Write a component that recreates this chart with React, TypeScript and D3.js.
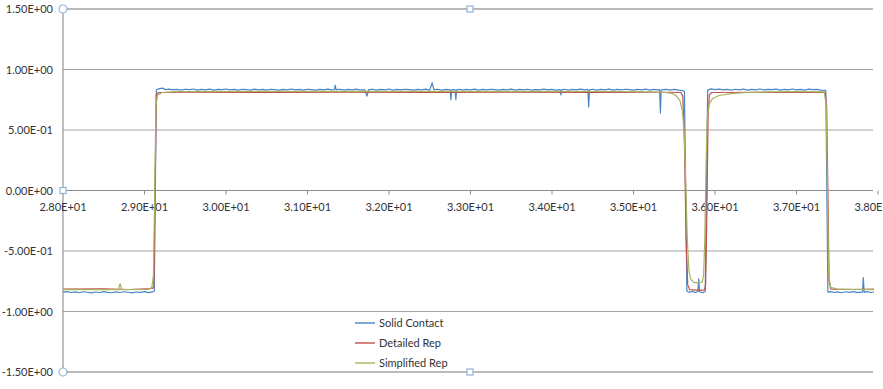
import React from "react";
import * as d3 from "d3";

type Pt = [number, number];

const xTicks = [28, 29, 30, 31, 32, 33, 34, 35, 36, 37, 38];
const yTicks = [1.5, 1.0, 0.5, 0, -0.5, -1.0, -1.5];
const seriesNames = ["Solid Contact", "Detailed Rep", "Simplified Rep"];
const seriesColors = ["#4A86C5", "#C0504D", "#A8B45C"];

const solidContact: Pt[] = [
  [28.0, -0.84], [28.05, -0.836], [28.1, -0.843], [28.15, -0.838], [28.2, -0.845], [28.25, -0.837],
  [28.3, -0.841], [28.35, -0.846], [28.4, -0.839], [28.45, -0.843], [28.5, -0.836], [28.55, -0.842],
  [28.6, -0.845], [28.65, -0.838], [28.7, -0.843], [28.75, -0.837], [28.8, -0.841], [28.85, -0.846],
  [28.9, -0.839], [28.95, -0.842], [29.0, -0.836], [29.05, -0.844], [29.1, -0.838],
  [29.12, -0.83], [29.145, 0.83],
  [29.18, 0.842], [29.22, 0.846], [29.26, 0.834], [29.3, 0.838], [29.35, 0.831], [29.4, 0.836],
  [29.45, 0.829], [29.5, 0.837], [29.55, 0.833], [29.6, 0.839], [29.65, 0.83], [29.7, 0.835],
  [29.75, 0.832], [29.8, 0.838], [29.85, 0.829], [29.9, 0.836], [29.95, 0.833], [30.0, 0.839],
  [30.05, 0.831], [30.1, 0.835], [30.15, 0.829], [30.2, 0.837], [30.25, 0.834], [30.3, 0.83],
  [30.35, 0.838], [30.4, 0.832], [30.45, 0.836], [30.5, 0.83], [30.55, 0.837], [30.6, 0.833],
  [30.65, 0.829], [30.7, 0.836], [30.75, 0.832], [30.8, 0.839], [30.85, 0.831], [30.9, 0.835],
  [30.95, 0.83], [31.0, 0.837], [31.05, 0.833], [31.1, 0.829], [31.15, 0.836], [31.2, 0.832],
  [31.25, 0.838], [31.3, 0.831], [31.33, 0.834], [31.34, 0.87], [31.35, 0.833], [31.4, 0.837],
  [31.45, 0.83], [31.5, 0.835], [31.55, 0.832], [31.6, 0.838], [31.65, 0.83], [31.7, 0.834],
  [31.73, 0.78], [31.75, 0.833], [31.8, 0.837], [31.85, 0.83], [31.9, 0.836], [31.95, 0.832],
  [32.0, 0.839], [32.05, 0.83], [32.1, 0.835], [32.15, 0.831], [32.2, 0.837], [32.25, 0.833],
  [32.3, 0.829], [32.35, 0.836], [32.4, 0.832], [32.45, 0.838], [32.5, 0.83], [32.53, 0.89],
  [32.55, 0.834], [32.6, 0.837], [32.65, 0.83], [32.7, 0.835], [32.75, 0.832], [32.76, 0.75],
  [32.77, 0.833], [32.81, 0.834], [32.82, 0.75], [32.83, 0.832], [32.87, 0.837], [32.9, 0.83],
  [32.95, 0.836], [33.0, 0.832], [33.05, 0.838], [33.1, 0.83], [33.15, 0.835], [33.2, 0.831],
  [33.25, 0.837], [33.3, 0.833], [33.35, 0.829], [33.4, 0.836], [33.45, 0.832], [33.5, 0.838],
  [33.55, 0.83], [33.6, 0.835], [33.65, 0.832], [33.7, 0.837], [33.75, 0.83], [33.8, 0.834],
  [33.85, 0.831], [33.9, 0.838], [33.95, 0.832], [34.0, 0.836], [34.05, 0.83], [34.1, 0.834],
  [34.11, 0.79], [34.12, 0.832], [34.15, 0.837], [34.2, 0.83], [34.25, 0.835], [34.3, 0.831],
  [34.35, 0.838], [34.4, 0.832], [34.44, 0.835], [34.45, 0.69], [34.46, 0.831], [34.5, 0.837],
  [34.55, 0.83], [34.6, 0.836], [34.65, 0.832], [34.7, 0.838], [34.75, 0.83], [34.8, 0.835],
  [34.85, 0.831], [34.9, 0.837], [34.95, 0.833], [35.0, 0.829], [35.05, 0.836], [35.1, 0.832],
  [35.15, 0.838], [35.2, 0.83], [35.25, 0.835], [35.3, 0.832], [35.32, 0.834], [35.33, 0.64],
  [35.34, 0.831], [35.4, 0.836], [35.45, 0.83], [35.5, 0.835], [35.55, 0.829], [35.6, 0.826],
  [35.625, 0.82], [35.655, -0.83], [35.68, -0.842], [35.72, -0.834], [35.76, -0.843], [35.79, -0.835],
  [35.8, -0.73], [35.81, -0.837], [35.85, -0.844], [35.88, -0.834], [35.91, 0.83], [35.95, 0.84],
  [36.0, 0.833], [36.05, 0.838], [36.1, 0.831], [36.15, 0.836], [36.2, 0.83], [36.25, 0.837],
  [36.3, 0.832], [36.35, 0.838], [36.4, 0.83], [36.45, 0.835], [36.5, 0.832], [36.55, 0.839],
  [36.6, 0.831], [36.65, 0.836], [36.7, 0.833], [36.75, 0.838], [36.8, 0.83], [36.85, 0.835],
  [36.9, 0.831], [36.95, 0.839], [37.0, 0.832], [37.05, 0.836], [37.1, 0.83], [37.15, 0.838],
  [37.2, 0.833], [37.25, 0.836], [37.3, 0.83], [37.36, 0.828], [37.385, -0.84], [37.42, -0.836],
  [37.46, -0.843], [37.5, -0.838], [37.55, -0.845], [37.6, -0.837], [37.65, -0.842], [37.7, -0.836],
  [37.75, -0.844], [37.81, -0.838], [37.82, -0.72], [37.83, -0.842], [37.87, -0.836], [37.91, -0.843],
  [37.95, -0.839],
];

const detailedRep: Pt[] = [
  [28.0, -0.815], [28.5, -0.812], [28.8, -0.818], [29.1, -0.81], [29.115, -0.79], [29.13, 0.0],
  [29.145, 0.79], [29.17, 0.81], [29.5, 0.812], [30.5, 0.81], [31.5, 0.813], [32.5, 0.81],
  [33.5, 0.812], [34.5, 0.81], [35.4, 0.812], [35.58, 0.81], [35.605, 0.78], [35.625, 0.4],
  [35.645, -0.4], [35.665, -0.78], [35.69, -0.82], [35.8, -0.825], [35.87, -0.822], [35.885, -0.78],
  [35.9, -0.2], [35.915, 0.6], [35.93, 0.79], [35.96, 0.81], [36.5, 0.812], [37.0, 0.81],
  [37.35, 0.812], [37.37, 0.7], [37.385, 0.0], [37.4, -0.75], [37.42, -0.815], [37.7, -0.818],
  [37.95, -0.815],
];

const simplifiedRep: Pt[] = [
  [28.0, -0.82], [28.68, -0.82], [28.7, -0.77], [28.72, -0.82], [29.05, -0.818], [29.09, -0.8],
  [29.11, -0.7], [29.125, 0.0], [29.14, 0.7], [29.16, 0.79], [29.22, 0.81], [29.4, 0.818],
  [30.5, 0.82], [32.0, 0.82], [33.5, 0.82], [34.8, 0.818], [35.2, 0.815], [35.4, 0.81],
  [35.48, 0.8], [35.53, 0.78], [35.57, 0.74], [35.6, 0.66], [35.62, 0.5], [35.64, 0.1],
  [35.66, -0.4], [35.68, -0.66], [35.7, -0.73], [35.74, -0.76], [35.8, -0.765], [35.845, -0.755],
  [35.86, -0.7], [35.875, -0.4], [35.89, 0.2], [35.905, 0.6], [35.93, 0.72], [35.97, 0.76],
  [36.05, 0.785], [36.2, 0.8], [36.4, 0.81], [36.7, 0.815], [37.0, 0.818], [37.34, 0.815],
  [37.365, 0.7], [37.38, 0.0], [37.395, -0.7], [37.42, -0.8], [37.5, -0.815], [37.95, -0.82],
];

const allSeries = [solidContact, detailedRep, simplifiedRep];

function fmt(v: number): string {
  const [m, e] = v.toExponential(2).split("e");
  const n = parseInt(e, 10);
  const sign = n < 0 ? "-" : "+";
  const ab = Math.abs(n).toString().padStart(2, "0");
  return `${m}E${sign}${ab}`;
}

export default function App() {
  const W = 883;
  const H = 389;
  const left = 63;
  const right = 873;
  const x = d3.scaleLinear().domain([28, 38]).range([63, 878]);
  const y = d3.scaleLinear().domain([-1.5, 1.5]).range([372, 9]);
  const line = d3
    .line<Pt>()
    .x((d) => x(d[0]))
    .y((d) => y(d[1]));
  const font = "Lato, 'Open Sans', 'DejaVu Sans', sans-serif";
  const handle = "#8DB3D6";
  const midX = 470;

  return (
    <svg
      width={W}
      height={H}
      style={{ position: "absolute", left: 0, top: 0, background: "#fff" }}
      fontFamily={font}
    >
      <defs>
        <clipPath id="plot">
          <rect x={left} y={0} width={right - left + 1} height={H} />
        </clipPath>
      </defs>
      {yTicks.map((t) => (
        <line
          key={"g" + t}
          x1={left}
          x2={right}
          y1={y(t)}
          y2={y(t)}
          stroke={t === 0 ? "#8c8c8c" : "#a3a3a3"}
          strokeWidth={t === 1.5 || t === -1.5 ? 1.6 : 1.1}
        />
      ))}
      <line x1={left} x2={left} y1={y(1.5)} y2={y(-1.5)} stroke="#8c8c8c" strokeWidth={1.1} />
      {xTicks.map((t) => (
        <g key={"x" + t}>
          <line x1={x(t)} x2={x(t)} y1={y(0)} y2={y(0) + 4} stroke="#8c8c8c" strokeWidth={1} />
          <text x={x(t)} y={211} textAnchor="middle" fontSize={11} fill="#333">
            {fmt(t)}
          </text>
        </g>
      ))}
      {yTicks.map((t) => (
        <text key={"y" + t} x={53} y={y(t) + 4} textAnchor="end" fontSize={11} fill="#333">
          {fmt(t)}
        </text>
      ))}
      <g clipPath="url(#plot)">
        {allSeries.map((s, i) => (
          <path
            key={"s" + i}
            d={line(s) || ""}
            fill="none"
            stroke={seriesColors[i]}
            strokeWidth={1.2}
            strokeLinejoin="round"
          />
        ))}
      </g>
      {seriesNames.map((n, i) => (
        <g key={"l" + i}>
          <line x1={355} x2={375} y1={323 + i * 20} y2={323 + i * 20} stroke={seriesColors[i]} strokeWidth={1.4} />
          <text x={379} y={327 + i * 20} fontSize={11} fill="#333">
            {n}
          </text>
        </g>
      ))}
      <circle cx={left} cy={y(1.5)} r={4} fill="#fff" stroke={handle} strokeWidth={1.2} />
      <circle cx={left} cy={y(-1.5)} r={4} fill="#fff" stroke={handle} strokeWidth={1.2} />
      <rect x={midX - 3} y={y(1.5) - 3} width={6} height={6} fill="#fff" stroke={handle} strokeWidth={1.2} />
      <rect x={midX - 3} y={y(-1.5) - 3} width={6} height={6} fill="#fff" stroke={handle} strokeWidth={1.2} />
      <rect x={left - 3} y={y(0) - 3} width={6} height={6} fill="#fff" stroke={handle} strokeWidth={1.2} />
    </svg>
  );
}
